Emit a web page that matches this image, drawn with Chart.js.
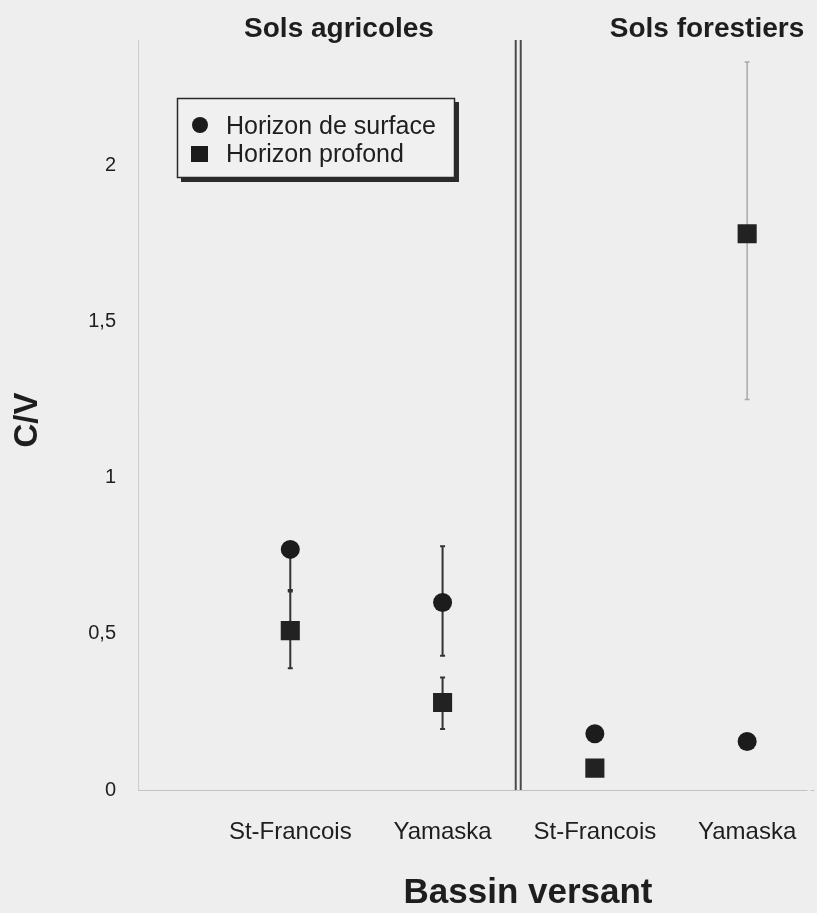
<!DOCTYPE html>
<html>
<head>
<meta charset="utf-8">
<script src="https://cdn.jsdelivr.net/npm/chart.js@4.4.1/dist/chart.umd.min.js"></script>
<style>
  html, body { margin: 0; padding: 0; background: #eeeeee; overflow: hidden; }
  #wrap { width: 817px; height: 913px; position: relative; }
  canvas { display: block; }
</style>
</head>
<body>
<div id="wrap"><canvas id="cv"></canvas></div>
<script>
// DATA //

const basins = ['St-Francois', 'Yamaska', 'St-Francois', 'Yamaska'];
const groups = ['Sols agricoles', 'Sols forestiers'];
const yTicks = [0, 0.5, 1, 1.5, 2];

// horizon de surface (circles)
const surface = [0.77, 0.60, 0.18, 0.155];
const surfaceLow = [0.64, 0.43, null, null];
const surfaceHigh = [0.77, 0.78, null, null];

// horizon profond (squares)
const deep = [0.51, 0.28, 0.07, 1.78];
const deepLow = [0.39, 0.195, null, 1.25];
const deepHigh = [0.635, 0.36, null, 2.33];

const FONT = '"Liberation Sans", Arial, sans-serif';
const INK = '#1e1e1e';

const toPoints = arr => arr.map((v, i) => ({ x: i + 1, y: v }));

// ERROR BARS, SEPARATOR, TITLES, LEGEND //

const extras = {
    id: 'extras',
    beforeDraw(chart) {
        const ctx = chart.ctx;
        ctx.save();
        ctx.fillStyle = '#eeeeee';
        ctx.fillRect(0, 0, chart.width, chart.height);
        ctx.restore();
    },
    beforeDatasetsDraw(chart) {
        const ctx = chart.ctx;
        const xs = chart.scales.x;
        const ys = chart.scales.y;
        const area = chart.chartArea;

        // x axis line runs on to the page edge
        ctx.save();
        ctx.strokeStyle = '#c2c2c2';
        ctx.setLineDash([4, 3]);
        ctx.beginPath();
        ctx.moveTo(area.right, area.bottom + 0.5);
        ctx.lineTo(chart.width, area.bottom + 0.5);
        ctx.stroke();
        ctx.setLineDash([]);

        // double line between the two soil groups
        const sep = xs.getPixelForValue(2.5);
        ctx.strokeStyle = '#4a4a4a';
        ctx.lineWidth = 2;
        [sep - 3, sep + 2].forEach(px => {
            ctx.beginPath();
            ctx.moveTo(px, area.top);
            ctx.lineTo(px, area.bottom);
            ctx.stroke();
        });

        const bars = [[surfaceLow, surfaceHigh], [deepLow, deepHigh]];
        bars.forEach(([lo, hi]) => {
            for (let i = 0; i < basins.length; i++) {
                if (lo[i] === null) continue;
                const dark = i < 2;
                const x = xs.getPixelForValue(i + 1);
                const y1 = ys.getPixelForValue(lo[i]);
                const y2 = ys.getPixelForValue(hi[i]);
                ctx.strokeStyle = dark ? '#333333' : '#a9a9a9';
                ctx.lineWidth = dark ? 2 : 1.5;
                ctx.beginPath();
                ctx.moveTo(x, y1);
                ctx.lineTo(x, y2);
                ctx.moveTo(x - 2.5, y1);
                ctx.lineTo(x + 2.5, y1);
                ctx.moveTo(x - 2.5, y2);
                ctx.lineTo(x + 2.5, y2);
                ctx.stroke();
            }
        });
        ctx.restore();
    },
    afterDraw(chart) {
        const ctx = chart.ctx;
        ctx.save();
        ctx.fillStyle = INK;
        ctx.textAlign = 'center';
        ctx.textBaseline = 'middle';

        ctx.font = 'bold 28px ' + FONT;
        ctx.fillText(groups[0], 339, 29);
        ctx.fillText(groups[1], 707, 29);

        ctx.font = 'bold 35px ' + FONT;
        ctx.fillText('Bassin versant', 528, 893);

        ctx.save();
        ctx.translate(28, 420);
        ctx.rotate(-Math.PI / 2);
        ctx.font = 'bold 33px ' + FONT;
        ctx.fillText('C/V', 0, 0);
        ctx.restore();

        // legend box with shadow
        ctx.fillStyle = '#2a2a2a';
        ctx.fillRect(181, 177, 278, 5);
        ctx.fillRect(455, 102, 4, 80);
        ctx.fillStyle = '#f0f0f0';
        ctx.fillRect(177, 98, 278, 80);
        ctx.strokeStyle = '#2a2a2a';
        ctx.lineWidth = 1.5;
        ctx.strokeRect(177.5, 98.5, 277, 79);

        const ds = chart.data.datasets;
        ctx.fillStyle = '#1c1c1c';
        ctx.beginPath();
        ctx.arc(200, 125, 8, 0, Math.PI * 2);
        ctx.fill();
        ctx.fillRect(191, 146, 17, 16);

        ctx.fillStyle = INK;
        ctx.textAlign = 'left';
        ctx.font = '25px ' + FONT;
        ctx.fillText(ds[0].label, 226, 127);
        ctx.fillText(ds[1].label, 226, 155);
        ctx.restore();
    }
};

// CHART //

const chart = new Chart(document.getElementById('cv'), {
    type: 'scatter',
    data: {
        datasets: [{
            label: 'Horizon de surface',
            data: toPoints(surface),
            pointStyle: 'circle',
            pointRadius: 9.5,
            pointHoverRadius: 9.5,
            backgroundColor: '#1c1c1c',
            borderColor: '#1c1c1c',
            borderWidth: 0
        }, {
            label: 'Horizon profond',
            data: toPoints(deep),
            pointStyle: 'rect',
            pointRadius: 13.5,
            pointHoverRadius: 13.5,
            backgroundColor: '#222222',
            borderColor: '#222222',
            borderWidth: 0
        }]
    },
    options: {
        responsive: true,
        maintainAspectRatio: false,
        animation: false,
        layout: { padding: { top: 40, left: 0, right: 0, bottom: 0 } },
        plugins: {
            legend: { display: false },
            tooltip: { enabled: false }
        },
        scales: {
            x: {
                type: 'linear',
                min: 0,
                max: 4.37,
                afterBuildTicks: s => { s.ticks = basins.map((b, i) => ({ value: i + 1 })); },
                afterFit: s => { s.height = 123; },
                ticks: {
                    callback: v => basins[v - 1],
                    font: { family: FONT, size: 24 },
                    color: INK,
                    padding: 0,
                    maxRotation: 0,
                    autoSkip: false
                },
                // hidden grid, tick length only used as label gap
                grid: { display: false, drawTicks: true, tickLength: 28 },
                border: { display: true, color: '#c2c2c2', width: 1, dash: [4, 3] }
            },
            y: {
                min: 0,
                max: 2.4,
                afterBuildTicks: s => { s.ticks = yTicks.map(v => ({ value: v })); },
                afterFit: s => { s.width = 138; },
                ticks: {
                    callback: v => String(v).replace('.', ','),
                    font: { family: FONT, size: 20 },
                    color: INK,
                    padding: 0
                },
                grid: { display: false, drawTicks: true, tickLength: 22 },
                border: { display: true, color: '#cccccc', width: 1, dash: [2, 4] }
            }
        }
    },
    plugins: [extras]
});
</script>
</body>
</html>
